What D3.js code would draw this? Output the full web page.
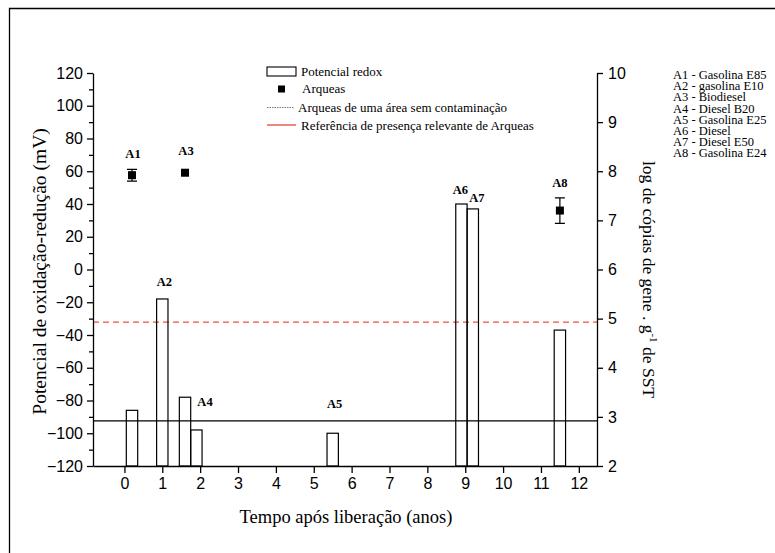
<!DOCTYPE html>
<html>
<head>
<meta charset="utf-8">
<script src="https://cdn.jsdelivr.net/npm/d3@7/dist/d3.min.js"></script>
<style>
  html, body { margin: 0; padding: 0; background: #fff; }
  svg { display: block; }
</style>
</head>
<body>
<svg id="chart" width="775" height="553"></svg>
<script>
// Redox potential bars (left axis, mV) by time after release (years)
const redoxTime = [0.2, 1.0, 1.6, 1.9, 5.5, 8.9, 9.2, 11.5];
const redoxMv = [-86, -18, -78, -98, -100, 40, 37, -37];

// Archaea gene copies (right axis, log copies per g of soil)
const archaeaTime = [0.2, 1.6, 11.5];
const archaeaLog = [7.92, 7.97, 7.2];
const archaeaErr = [0.12, 0, 0.26];

// Horizontal references (right axis units)
const uncontaminatedLog = 2.92;
const relevantLog = 4.93;

// Sample identifiers and descriptions
const sampleIds = ["A1", "A2", "A3", "A4", "A5", "A6", "A7", "A8"];
const sampleNames = ["Gasolina E85", "gasolina E10", "Biodiesel", "Diesel B20",
                     "Gasolina E25", "Diesel", "Diesel E50", "Gasolina E24"];

// Axis ticks
const xTicks = [0, 1, 2, 3, 4, 5, 6, 7, 8, 9, 10, 11, 12];
const leftTicks = [-120, -100, -80, -60, -40, -20, 0, 20, 40, 60, 80, 100, 120];
const leftMinor = d3.range(-110, 120, 20);
const rightTicks = [2, 3, 4, 5, 6, 7, 8, 9, 10];

const legendItems = ["Potencial redox", "Arqueas",
  "Arqueas de uma área sem contaminação",
  "Referência de presença relevante de Arqueas"];

const svg = d3.select("#chart");
const plot = { left: 93, right: 597, top: 73, bottom: 466 };
const sans = "'Liberation Sans', Arial, Helvetica, sans-serif";
const serif = "'Liberation Serif', 'Times New Roman', Times, serif";

const x = d3.scaleLinear().domain([-0.83, 12.48]).range([plot.left, plot.right]);
const yL = d3.scaleLinear().domain([-120, 120]).range([plot.bottom, plot.top]);
const yR = d3.scaleLinear().domain([2, 10]).range([plot.bottom, plot.top]);
const barW = x(0.3) - x(0);

// outer frame (top and left edges)
svg.append("path").attr("d", "M9.5,553 V8.5 H775")
  .attr("fill", "none").attr("stroke", "#000").attr("stroke-width", 1.3);

// reference lines
svg.append("line")
  .attr("x1", plot.left).attr("x2", plot.right)
  .attr("y1", yR(uncontaminatedLog)).attr("y2", yR(uncontaminatedLog))
  .attr("stroke", "#000").attr("stroke-width", 1.2);
svg.append("line")
  .attr("x1", plot.left).attr("x2", plot.right)
  .attr("y1", yR(relevantLog)).attr("y2", yR(relevantLog))
  .attr("stroke", "#e8553f").attr("stroke-width", 1.2)
  .attr("stroke-dasharray", "6,4");

// redox bars
svg.append("g").selectAll("rect")
  .data(redoxTime.map((t, i) => ({ t, v: redoxMv[i] })))
  .join("rect")
  .attr("x", d => x(d.t) - barW / 2)
  .attr("y", d => yL(d.v))
  .attr("width", barW)
  .attr("height", d => yL(-120) - yL(d.v))
  .attr("fill", "none")
  .attr("stroke", "#000").attr("stroke-width", 1.2);

// archaea points with error bars
const pts = archaeaTime.map((t, i) => ({ t, v: archaeaLog[i], e: archaeaErr[i] }));
const pg = svg.append("g");
pts.filter(d => d.e > 0).forEach(d => {
  const cx = x(d.t), y1 = yR(d.v + d.e), y2 = yR(d.v - d.e);
  pg.append("path")
    .attr("d", `M${cx},${y1}V${y2}M${cx - 5},${y1}H${cx + 5}M${cx - 5},${y2}H${cx + 5}`)
    .attr("fill", "none").attr("stroke", "#000").attr("stroke-width", 1.2);
});
pg.selectAll("rect").data(pts).join("rect")
  .attr("x", d => x(d.t) - 4).attr("y", d => yR(d.v) - 4)
  .attr("width", 8).attr("height", 8).attr("fill", "#000");

// sample labels attached to their marks
const labelAt = [
  { id: "A1", px: x(archaeaTime[0]), py: yR(archaeaLog[0]), dx: 1, dy: -21 },
  { id: "A2", px: x(redoxTime[1]), py: yL(redoxMv[1]), dx: 2, dy: -17 },
  { id: "A3", px: x(archaeaTime[1]), py: yR(archaeaLog[1]), dx: 1, dy: -22 },
  { id: "A4", px: x(redoxTime[2]), py: yL(redoxMv[2]), dx: 20, dy: 5 },
  { id: "A5", px: x(redoxTime[4]), py: yL(redoxMv[4]), dx: 2, dy: -29 },
  { id: "A6", px: x(redoxTime[5]), py: yL(redoxMv[5]), dx: -1, dy: -14 },
  { id: "A7", px: x(redoxTime[6]), py: yL(redoxMv[6]), dx: 4, dy: -11 },
  { id: "A8", px: x(archaeaTime[2]), py: yR(archaeaLog[2]), dx: 0, dy: -28 }
];
svg.append("g").selectAll("text").data(labelAt).join("text")
  .attr("x", d => d.px + d.dx).attr("y", d => d.py + d.dy)
  .attr("text-anchor", "middle").attr("dominant-baseline", "central")
  .attr("font-family", serif).attr("font-weight", "bold").attr("font-size", 12.5)
  .text(d => d.id);

// axes
function styleAxis(g) {
  g.selectAll(".domain").attr("stroke", "#000").attr("stroke-width", 1.3);
  g.selectAll(".tick line").attr("stroke", "#000").attr("stroke-width", 1.3);
  g.selectAll(".tick text").attr("font-family", sans).attr("font-size", 16).attr("fill", "#000");
}

const gx = svg.append("g").attr("transform", `translate(0,${plot.bottom})`)
  .call(d3.axisBottom(x).tickValues(xTicks).tickSize(7).tickSizeOuter(0).tickPadding(5).tickFormat(d3.format("d")));
styleAxis(gx);

const gl = svg.append("g").attr("transform", `translate(${plot.left},0)`)
  .call(d3.axisLeft(yL).tickValues(leftTicks).tickSize(6).tickSizeOuter(0).tickPadding(4).tickFormat(d3.format("d")));
styleAxis(gl);
svg.append("g").attr("transform", `translate(${plot.left},0)`)
  .call(d3.axisLeft(yL).tickValues(leftMinor).tickSize(4).tickFormat(""))
  .call(g => g.select(".domain").remove())
  .call(styleAxis);

const gr = svg.append("g").attr("transform", `translate(${plot.right},0)`)
  .call(d3.axisRight(yR).tickValues(rightTicks).tickSize(6).tickSizeOuter(0).tickPadding(5).tickFormat(d3.format("d")));
styleAxis(gr);

// axis titles
svg.append("text")
  .attr("x", (plot.left + plot.right) / 2 + 1).attr("y", 523)
  .attr("text-anchor", "middle").attr("font-family", serif).attr("font-size", 18.5)
  .text("Tempo após liberação (anos)");

svg.append("text")
  .attr("transform", `translate(46,${(plot.top + plot.bottom) / 2 + 2}) rotate(-90)`)
  .attr("text-anchor", "middle").attr("font-family", serif).attr("font-size", 19.5)
  .text("Potencial de oxidação-redução (mV)");

const rt = svg.append("text")
  .attr("transform", `translate(643,${(plot.top + plot.bottom) / 2 + 10}) rotate(90)`)
  .attr("text-anchor", "middle").attr("font-family", serif).attr("font-size", 17.5);
rt.append("tspan").text("log de cópias de gene . g");
rt.append("tspan").attr("font-size", 11).attr("dy", -7).text("-1");
rt.append("tspan").attr("dy", 7).text(" de SST");

// legend
const lg = svg.append("g").attr("font-family", serif).attr("font-size", 13);
const lx = 267, ly = [71.5, 88.5, 107.5, 125];
lg.append("rect").attr("x", lx).attr("y", ly[0] - 4.5).attr("width", 29).attr("height", 9)
  .attr("fill", "none").attr("stroke", "#000").attr("stroke-width", 1.1);
lg.append("rect").attr("x", 278).attr("y", ly[1] - 3).attr("width", 7).attr("height", 7).attr("fill", "#000");
lg.append("line").attr("x1", lx).attr("x2", lx + 27).attr("y1", ly[2]).attr("y2", ly[2])
  .attr("stroke", "#777").attr("stroke-width", 1).attr("stroke-dasharray", "1.5,1");
lg.append("line").attr("x1", lx).attr("x2", lx + 29).attr("y1", ly[3]).attr("y2", ly[3])
  .attr("stroke", "#e8332a").attr("stroke-width", 1.2);
const ltx = [301, 302, 298, 301];
lg.selectAll("text").data(legendItems).join("text")
  .attr("x", (d, i) => ltx[i]).attr("y", (d, i) => ly[i])
  .attr("dominant-baseline", "central").text(d => d);

// sample key on the right
svg.append("g").attr("font-family", serif).attr("font-size", 12.5)
  .selectAll("text").data(sampleIds).join("text")
  .attr("x", 673).attr("y", (d, i) => 75 + i * 11.2)
  .attr("dominant-baseline", "central")
  .text((d, i) => `${d} - ${sampleNames[i]}`);
</script>
</body>
</html>
